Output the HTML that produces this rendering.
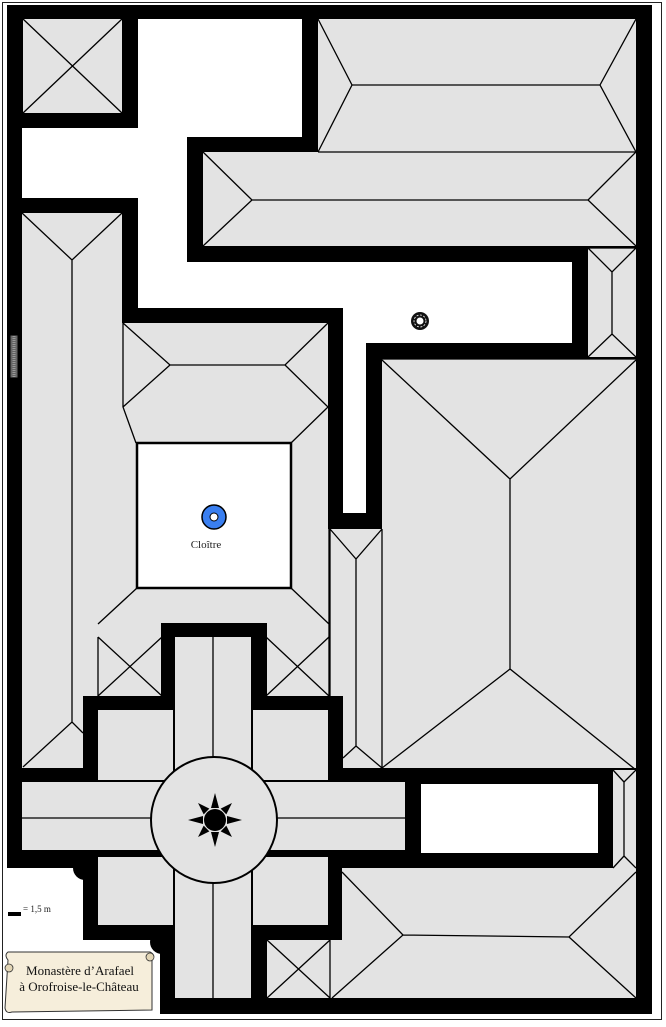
<!DOCTYPE html>
<html><head><meta charset="utf-8"><style>html,body{margin:0;padding:0;background:#fff}svg{display:block}</style></head>
<body>
<svg width="666" height="1027" viewBox="0 0 666 1027" xmlns="http://www.w3.org/2000/svg">
<rect x="0" y="0" width="666" height="1027" fill="#fff"/>
<rect x="2.5" y="2.5" width="659" height="1017" fill="none" stroke="#222" stroke-width="1"/>
<!-- building footprint -->
<rect x="7" y="5" width="645" height="1009" fill="#000"/>
<rect x="7" y="868" width="76" height="146" fill="#fff"/>
<rect x="7" y="940" width="153" height="74" fill="#fff"/>
<circle cx="85" cy="868" r="12" fill="#000"/>
<circle cx="162" cy="942" r="12" fill="#000"/>
<rect x="3" y="868" width="4" height="146" fill="#fff"/>

<g fill="#e3e3e3">
<rect x="23" y="19" width="99" height="94"/>
<rect x="318" y="19" width="318" height="133"/>
<rect x="203" y="152" width="433" height="94"/>
<rect x="588" y="248" width="48" height="109"/>
<rect x="382" y="359" width="254" height="409"/>
<polygon points="22,213 122,213 122,323 328,323 328,529 382,529 382,768 22,768"/>
</g>
<!-- white courtyard -->
<polygon fill="#fff" points="138,19 302,19 302,137 187,137 187,262 572,262 572,343 366,343 366,513 343,513 343,308 138,308 138,198 22,198 22,128 138,128"/>
<!-- cross black -->
<g fill="#000">
<rect x="161" y="623" width="106" height="90"/>
<rect x="83" y="696" width="260" height="244"/>
<rect x="7" y="768" width="606" height="100"/>
</g>
<g fill="#e3e3e3">
<rect x="175" y="637" width="76" height="361"/>
<rect x="22" y="782" width="383" height="68"/>
<rect x="98" y="710" width="75" height="70"/>
<rect x="253" y="710" width="75" height="70"/>
<rect x="98" y="857" width="75" height="68"/>
<rect x="253" y="857" width="75" height="68"/>
<rect x="267" y="940" width="369" height="58"/>
<rect x="342" y="868" width="294" height="130"/>
<rect x="613" y="770" width="23" height="98"/>
</g>
<rect x="421" y="784" width="177" height="69" fill="#fff"/>
<!-- cloister court -->
<rect x="137" y="443" width="154" height="145" fill="#fff" stroke="#000" stroke-width="2.5"/>
<!-- window -->
<rect x="10" y="335" width="8" height="43" fill="#666" stroke="#000" stroke-width="1"/>
<line x1="14" y1="336" x2="14" y2="377" stroke="#999" stroke-width="3" stroke-dasharray="1,1"/>

<g stroke="#000" stroke-width="1.3" fill="none">
<path d="M23,19L122,113M122,19L23,113"/>
<path d="M318,19L352,85L318,152M352,85L600,85M636,19L600,85L636,152M318,152H636"/>
<path d="M203,152L252,200L203,246M252,200H588M636,152L588,200L636,246"/>
<path d="M588,248H636M588,248L612,272L636,248M612,272V334M588,357L612,334L636,357"/>
<path d="M382,359H636M382,360L510,479L636,360M510,479V669M382,768L510,669L636,770"/>
<path d="M330,529L356,559L382,529M356,559V746M343,758L356,746L382,768M330,529V696M382,529V768"/>
<path d="M22,213L72,260L122,213M72,260V722M23,767L72,722L83,733"/>
<path d="M123,323L170,365H285L328,323M170,365L123,407L136,443M285,365L328,407L291,443M123,323V407"/>
<path d="M137,588L98,624M291,588L329,624M329,529V696"/>
<path d="M98,637L162,696M98,696L162,637M98,637V696"/>
<path d="M266,637L329,696M266,696L329,637"/>
<path d="M267,940L330,998M267,998L330,940M330,940V998"/>
<path d="M342,872L403,935L332,998M403,935L569,937L636,872M569,937L636,998"/>
<path d="M613,770L624,782L636,770M624,782V856M613,868L624,856L636,868"/>
<path d="M22,818H405M213,637V998"/>
</g>
<!-- crossing -->
<circle cx="214" cy="820" r="63" fill="#e3e3e3" stroke="#000" stroke-width="2"/>
<g fill="#000" transform="translate(215,820)">
<circle r="11"/>
<polygon points="-4,-12 0,-27 4,-12"/>
<polygon points="-4,12 0,27 4,12"/>
<polygon points="-12,-4 -27,0 -12,4"/>
<polygon points="12,-4 27,0 12,4"/>
<g transform="rotate(45)">
<polygon points="-4,-12 0,-24 4,-12"/>
<polygon points="-4,12 0,24 4,12"/>
<polygon points="-12,-4 -24,0 -12,4"/>
<polygon points="12,-4 24,0 12,4"/>
</g>
</g>
<!-- well -->
<circle cx="214" cy="517" r="12" fill="#3a7ff0" stroke="#000" stroke-width="1.5"/>
<circle cx="214" cy="517" r="4" fill="#fff" stroke="#000" stroke-width="1"/>
<text x="206" y="548" font-family="Liberation Serif, serif" font-size="11" text-anchor="middle" fill="#222">Cloître</text>
<!-- fountain -->
<circle cx="420" cy="321" r="9" fill="#111"/>
<circle cx="420" cy="321" r="6" fill="none" stroke="#fff" stroke-width="0.8" stroke-dasharray="2,1.5"/>
<circle cx="420" cy="321" r="3.5" fill="#fff"/>
<!-- scale -->
<rect x="8" y="912" width="13" height="4" fill="#000"/>
<text x="23" y="912" font-family="Liberation Serif, serif" font-size="9" fill="#222">= 1,5 m</text>
<!-- scroll -->
<path d="M8,960 Q4,955 8,952 L150,952 Q156,955 152,960 L152,1010 L12,1012 Q6,1014 5,1008 Z" fill="#f6eedb" stroke="#333" stroke-width="1"/>
<circle cx="150" cy="957" r="4" fill="#e2d5b5" stroke="#333" stroke-width="0.8"/>
<circle cx="9" cy="968" r="4" fill="#e2d5b5" stroke="#333" stroke-width="0.8"/>
<text x="80" y="975" font-family="Liberation Serif, serif" font-size="13" text-anchor="middle" fill="#111">Monastère d’Arafael</text>
<text x="79" y="991" font-family="Liberation Serif, serif" font-size="13" text-anchor="middle" fill="#111">à Orofroise-le-Château</text>
</svg>
</body></html>
